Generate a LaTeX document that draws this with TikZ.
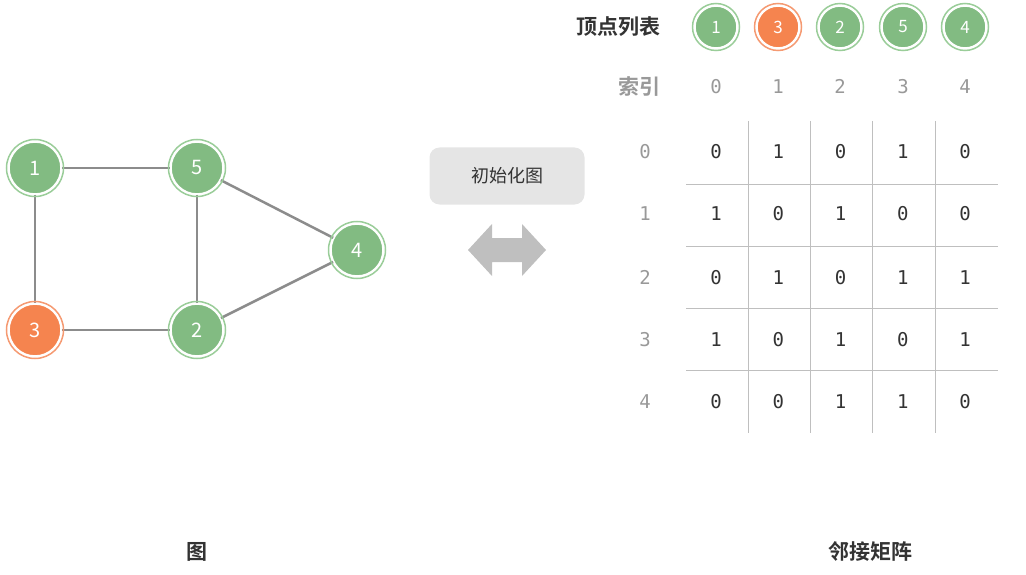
\documentclass[tikz,border=0pt]{standalone}
\usepackage{fontspec}
\setmainfont{Noto Sans CJK SC}
\newfontfamily\cjkb{Noto Sans CJK SC Bold}
\newfontfamily\mono{DejaVu Sans Mono}
\definecolor{vg}{HTML}{82BB82}
\definecolor{vgb}{HTML}{9ACD99}
\definecolor{vo}{HTML}{F5844F}
\definecolor{vob}{HTML}{F59A72}
\definecolor{edge}{HTML}{8C8C8C}
\definecolor{txt}{HTML}{333333}
\definecolor{gtxt}{HTML}{999999}
\begin{document}
\begin{tikzpicture}[x=1pt,y=-1pt,
  vert/.style={circle,minimum size=#1,inner sep=0pt,fill=vg,draw=white,line width=1.5pt,text=white,font=\fontsize{20}{20}\selectfont},
  vert/.default=52pt,
  ring/.style={circle,minimum size=#1,inner sep=0pt,draw=vgb,line width=1.5pt},
  edge/.style={draw=edge,line width=2.5pt},
  grid/.style={draw=black!25,line width=0.8pt},
  cell/.style={font=\mono\fontsize{19}{19}\selectfont,text=txt},
  idx/.style={font=\mono\fontsize{19}{19}\selectfont,text=gtxt},
  title/.style={font=\cjkb\fontsize{21}{21}\selectfont,text=txt}]
\useasboundingbox (0,0) rectangle (1026,575);
% graph
\foreach \n/\x/\y/\c in {1/35/168/vg,5/197/168/vg,4/357/250/vg,3/35/330/vo,2/197/330/vg}{
  \node[vert,fill=\c] (v\n) at (\x,\y) {\n};
}
\draw[edge] (v1) -- (v5);
\draw[edge] (v1) -- (v3);
\draw[edge] (v3) -- (v2);
\draw[edge] (v5) -- (v2);
\draw[edge] (v5) -- (v4);
\draw[edge] (v2) -- (v4);
\foreach \n/\c in {1/vgb,5/vgb,4/vgb,3/vob,2/vgb}{
  \node[ring=57pt,draw=\c] at (v\n) {};
}
% button and arrow
\node[fill=black!10,rounded corners=10pt,minimum width=155pt,minimum height=57pt,font=\fontsize{18}{18}\selectfont,text=txt] (btn) at (507,176) {初始化图};
\fill[black!25] (468,250) -- (492,224) -- (492,238) -- (522,238) -- (522,224) -- (546,250) -- (522,276) -- (522,262) -- (492,262) -- (492,276) -- cycle;
% vertex list
\node[title,anchor=east] (vl) at (664,27) {顶点列表};
\foreach \n/\x/\c/\b in {1/716/vg/vgb,3/778/vo/vob,2/840/vg/vgb,5/903/vg/vgb,4/965/vg/vgb}{
  \node[vert=42pt,fill=\c,font=\fontsize{17}{17}\selectfont] (l\n) at (\x,27) {\n};
  \node[ring=47pt,draw=\b] at (l\n) {};
}
\node[font=\cjkb\fontsize{21}{21}\selectfont,text=gtxt,anchor=east] (ix) at (664,87) {索引};
\foreach \i/\x in {0/716,1/778,2/840,3/903,4/965}{
  \node[idx,anchor=base] (c\i) at (\x,94) {\i};
}
% grid
\foreach \x in {748,810,872,935}{ \draw[grid] (\x,121) -- (\x,433); }
\foreach \y in {184,246,308,370}{ \draw[grid] (686,\y) -- (998,\y); }
\foreach \r/\y/\row in {0/152/{0,1,0,1,0},1/214/{1,0,1,0,0},2/277/{0,1,0,1,1},3/339/{1,0,1,0,1},4/401/{0,0,1,1,0}}{
  \node[idx,anchor=base] (r\r) at (645,\y+7) {\r};
  \foreach \v [count=\k from 0] in \row {
    \pgfmathsetmacro\xx{716+62.25*\k}
    \node[cell,anchor=base] at (\xx,\y+7) {\v};
  }
}
\node[title] (t1) at (197,552) {图};
\node[title] (t2) at (870,552) {邻接矩阵};
\end{tikzpicture}
\end{document}
